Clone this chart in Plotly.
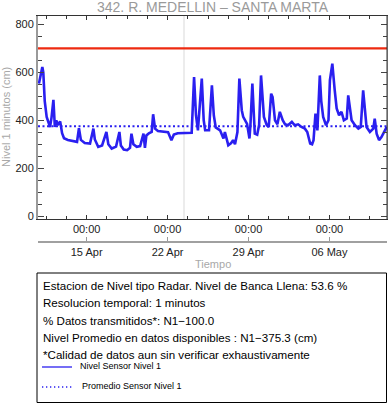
import plotly.graph_objects as go

# ---------------- data ----------------
times = [
    "2024-04-10 21:00", "2024-04-11 00:00", "2024-04-11 04:00", "2024-04-11 06:00",
    "2024-04-11 09:00", "2024-04-11 13:00", "2024-04-11 17:00", "2024-04-11 20:00",
    "2024-04-11 23:00", "2024-04-12 03:00", "2024-04-12 06:00", "2024-04-12 09:00",
    "2024-04-12 12:00", "2024-04-12 17:00", "2024-04-12 21:00", "2024-04-13 01:00",
    "2024-04-13 09:00", "2024-04-13 20:00", "2024-04-14 04:00", "2024-04-14 08:00",
    "2024-04-14 12:00", "2024-04-14 20:00", "2024-04-15 07:00", "2024-04-15 14:00",
    "2024-04-15 17:00", "2024-04-16 00:00", "2024-04-16 08:00", "2024-04-16 17:00",
    "2024-04-16 21:00", "2024-04-17 04:00", "2024-04-17 13:00", "2024-04-17 20:00",
    "2024-04-17 23:00", "2024-04-18 05:00", "2024-04-18 12:00", "2024-04-18 18:00",
    "2024-04-18 21:00", "2024-04-19 01:00", "2024-04-19 08:00", "2024-04-19 15:00",
    "2024-04-19 22:00", "2024-04-20 01:00", "2024-04-20 04:00", "2024-04-20 09:00",
    "2024-04-20 15:00", "2024-04-20 18:00", "2024-04-20 22:00", "2024-04-21 04:00",
    "2024-04-21 14:00", "2024-04-22 01:00", "2024-04-22 08:00", "2024-04-22 13:00",
    "2024-04-22 21:00", "2024-04-23 08:00", "2024-04-23 18:00", "2024-04-24 02:00",
    "2024-04-24 07:00", "2024-04-24 11:00", "2024-04-24 15:00", "2024-04-24 23:00",
    "2024-04-25 03:00", "2024-04-25 06:00", "2024-04-25 14:00", "2024-04-25 20:00",
    "2024-04-26 00:00", "2024-04-26 04:00", "2024-04-26 13:00", "2024-04-26 20:00",
    "2024-04-26 23:00", "2024-04-27 06:00", "2024-04-27 12:00", "2024-04-27 16:00",
    "2024-04-27 20:00", "2024-04-28 01:00", "2024-04-28 05:00", "2024-04-28 10:00",
    "2024-04-28 13:00", "2024-04-28 17:00", "2024-04-28 21:00", "2024-04-29 02:00",
    "2024-04-29 04:00", "2024-04-29 08:00", "2024-04-29 13:00", "2024-04-29 18:00",
    "2024-04-29 22:00", "2024-04-30 02:00", "2024-04-30 08:00", "2024-04-30 14:00",
    "2024-04-30 18:00", "2024-04-30 23:00", "2024-05-01 02:00", "2024-05-01 07:00",
    "2024-05-01 12:00", "2024-05-01 17:00", "2024-05-01 23:00", "2024-05-02 04:00",
    "2024-05-02 10:00", "2024-05-02 18:00", "2024-05-03 00:00", "2024-05-03 07:00",
    "2024-05-03 14:00", "2024-05-03 21:00", "2024-05-04 02:00", "2024-05-04 08:00",
    "2024-05-04 12:00", "2024-05-04 15:00", "2024-05-04 17:00", "2024-05-04 19:00",
    "2024-05-04 23:00", "2024-05-05 04:00", "2024-05-05 07:00", "2024-05-05 11:00",
    "2024-05-05 17:00", "2024-05-05 22:00", "2024-05-06 01:00", "2024-05-06 06:00",
    "2024-05-06 11:00", "2024-05-06 15:00", "2024-05-06 20:00", "2024-05-07 01:00",
    "2024-05-07 06:00", "2024-05-07 12:00", "2024-05-07 15:00", "2024-05-07 22:00",
    "2024-05-08 05:00", "2024-05-08 12:00", "2024-05-08 17:00", "2024-05-08 22:00",
    "2024-05-09 05:00", "2024-05-09 12:00", "2024-05-09 19:00", "2024-05-09 22:00",
    "2024-05-10 02:00", "2024-05-10 07:00", "2024-05-10 12:00", "2024-05-10 19:00",
    "2024-05-10 23:00",
]
nivel = [
    553, 590, 622, 600, 480, 414, 390, 372, 410, 485, 372, 400,
    380, 395, 346, 325, 318, 312, 310, 367, 318, 305, 303, 365,
    320, 289, 295, 351, 300, 282, 290, 351, 295, 278, 275, 285,
    344, 300, 289, 292, 344, 285, 337, 345, 351, 425, 365, 355,
    352, 350, 317, 340, 346, 347, 346, 348, 580, 420, 358, 574,
    400, 358, 358, 546, 420, 370, 358, 324, 351, 296, 305, 317,
    300, 351, 574, 442, 414, 400, 385, 324, 380, 553, 344, 340,
    380, 587, 414, 379, 372, 511, 497, 400, 383, 435, 400, 383,
    379, 393, 379, 383, 372, 365, 351, 303, 300, 317, 358, 428,
    358, 587, 480, 414, 379, 400, 567, 636, 525, 449, 421, 435,
    400, 407, 504, 400, 379, 365, 372, 525, 372, 351, 365, 407,
    344, 317, 330, 358, 372,
]
promedio = 375.3
banca_llena = 700
marcador = "2024-04-23 10:00"
x_range = ["2024-04-10 19:00", "2024-05-10 23:30"]
y_range = [-12, 835]
tick_dates = ["2024-04-15", "2024-04-22", "2024-04-29", "2024-05-06"]
tick_hours = ["00:00", "00:00", "00:00", "00:00"]
tick_days = ["15 Apr", "22 Apr", "29 Apr", "06 May"]
title = "342. R. MEDELLIN \u2013 SANTA MARTA"
info_lines = [
    "Estacion de Nivel tipo Radar. Nivel de Banca Llena: 53.6 %",
    "Resolucion temporal: 1 minutos",
    "% Datos transmitidos*: N1\u2212100.0",
    "Nivel Promedio en datos disponibles : N1\u2212375.3 (cm)",
    "*Calidad de datos aun sin verificar exhaustivamente",
]
legend_labels = ["Nivel Sensor Nivel 1", "Promedio Sensor Nivel 1"]

# ---------------- layout helpers ----------------
W, H = 388, 404
ML, MR, MT, MB = 38, 1, 16, 2
PW, PH = W - ML - MR, H - MT - MB


def px_x(p):
    return (p - ML) / PW


def px_y(p):
    return (H - MB - p) / PH


FONT = "Liberation Sans, Arial, Helvetica, sans-serif"
BLUE = "#2a1ff0"

fig = go.Figure()
fig.add_trace(go.Scatter(x=times, y=nivel, mode="lines",
                         line=dict(color=BLUE, width=2.6), hoverinfo="skip",
                         showlegend=False))
fig.add_trace(go.Scatter(x=tick_dates, y=[None] * len(tick_dates), xaxis="x2",
                         mode="lines", showlegend=False, hoverinfo="skip"))

shapes = []
# vertical marker
shapes.append(dict(type="line", xref="x", yref="paper", x0=marcador, x1=marcador,
                   y0=px_y(219), y1=1, line=dict(color="#ececec", width=2), layer="below"))
# bankfull level
shapes.append(dict(type="line", xref="paper", yref="y", x0=0, x1=1,
                   y0=banca_llena, y1=banca_llena, line=dict(color="#ee2a10", width=2.2)))
# mean level
shapes.append(dict(type="line", xref="paper", yref="y", x0=0, x1=1,
                   y0=promedio, y1=promedio,
                   line=dict(color=BLUE, width=2, dash="2px,2.5px")))
# right frame edge (dark)
shapes.append(dict(type="line", xref="paper", yref="paper", x0=1, x1=1,
                   y0=px_y(219), y1=1, line=dict(color="#333", width=1)))
# info box
shapes.append(dict(type="rect", xref="paper", yref="paper",
                   x0=px_x(37), x1=px_x(386.5), y0=px_y(402.5), y1=px_y(273),
                   line=dict(color="#000", width=1)))
# legend samples
shapes.append(dict(type="line", xref="paper", yref="paper", x0=px_x(42), x1=px_x(72),
                   y0=px_y(367), y1=px_y(367), line=dict(color=BLUE, width=1.3)))
shapes.append(dict(type="line", xref="paper", yref="paper", x0=px_x(42), x1=px_x(72),
                   y0=px_y(387), y1=px_y(387),
                   line=dict(color=BLUE, width=1.3, dash="1.3px,2.7px")))

annotations = []
annotations.append(dict(text=title, xref="paper", yref="paper", x=0.5, y=px_y(7),
                        xanchor="center", yanchor="middle", showarrow=False,
                        font=dict(family=FONT, size=14, color="#9a9a9a")))
annotations.append(dict(text="Tiempo", xref="paper", yref="paper", x=0.5, y=px_y(264),
                        xanchor="center", yanchor="middle", showarrow=False,
                        font=dict(family=FONT, size=11, color="#a8a8a8")))
annotations.append(dict(text="Nivel 1 minutos (cm)", xref="paper", yref="paper",
                        x=px_x(6), y=px_y(117), textangle=-90,
                        xanchor="center", yanchor="middle", showarrow=False,
                        font=dict(family=FONT, size=11, color="#a8a8a8")))
line_y = [285, 302.5, 320, 337, 354]
for txt, yy in zip(info_lines, line_y):
    annotations.append(dict(text=txt, xref="paper", yref="paper", x=px_x(41), y=px_y(yy),
                            xanchor="left", yanchor="middle", showarrow=False,
                            font=dict(family=FONT, size=11.6, color="#000")))
for txt, xx, yy in zip(legend_labels, [78, 79.5], [366, 386]):
    annotations.append(dict(text=txt, xref="paper", yref="paper", x=px_x(xx), y=px_y(yy),
                            xanchor="left", yanchor="middle", showarrow=False,
                            font=dict(family=FONT, size=9, color="#000")))

fig.update_layout(
    width=W, height=H,
    margin=dict(l=ML, r=MR, t=MT, b=MB, pad=0, autoexpand=False),
    paper_bgcolor="white", plot_bgcolor="white",
    showlegend=False,
    font=dict(family=FONT, size=11, color="#222"),
    shapes=shapes, annotations=annotations,
    xaxis=dict(
        type="date", range=x_range, anchor="y", automargin=False,
        tickmode="array", tickvals=tick_dates, ticktext=tick_hours,
        ticks="inside", ticklen=4, tickcolor="#333", tickwidth=1,
        showline=True, linecolor="#333", linewidth=1, mirror="ticks",
        showgrid=False, zeroline=False,
        tickfont=dict(family=FONT, size=11, color="#222"),
        minor=dict(tickmode="linear", tick0="2024-04-15", dtick=42 * 3600000,
                   ticks="inside", ticklen=3, tickcolor="#333", showgrid=False),
    ),
    xaxis2=dict(
        type="date", range=x_range, overlaying="x", anchor="free", automargin=False,
        position=px_y(242), side="bottom",
        tickmode="array", tickvals=tick_dates, ticktext=tick_days,
        ticks="inside", ticklen=4, tickcolor="#999", tickwidth=1,
        showline=True, linecolor="#a0a0a0", linewidth=2.2,
        showgrid=False, zeroline=False,
        tickfont=dict(family=FONT, size=11, color="#222"),
    ),
    yaxis=dict(
        range=y_range, domain=[px_y(219), 1], anchor="x", automargin=False,
        tickmode="linear", tick0=0, dtick=200,
        ticks="inside", ticklen=6, tickcolor="#444", tickwidth=1,
        showline=True, linecolor="#9a9a9a", linewidth=2, mirror="ticks",
        showgrid=False, zeroline=False,
        tickfont=dict(family=FONT, size=11, color="#222"),
        minor=dict(tickmode="linear", tick0=0, dtick=50, ticks="inside",
                   ticklen=4, tickcolor="#444", showgrid=False),
    ),
)

fig.write_html("out.html", config={"displayModeBar": False},
               post_script="document.body.style.margin='0';")
